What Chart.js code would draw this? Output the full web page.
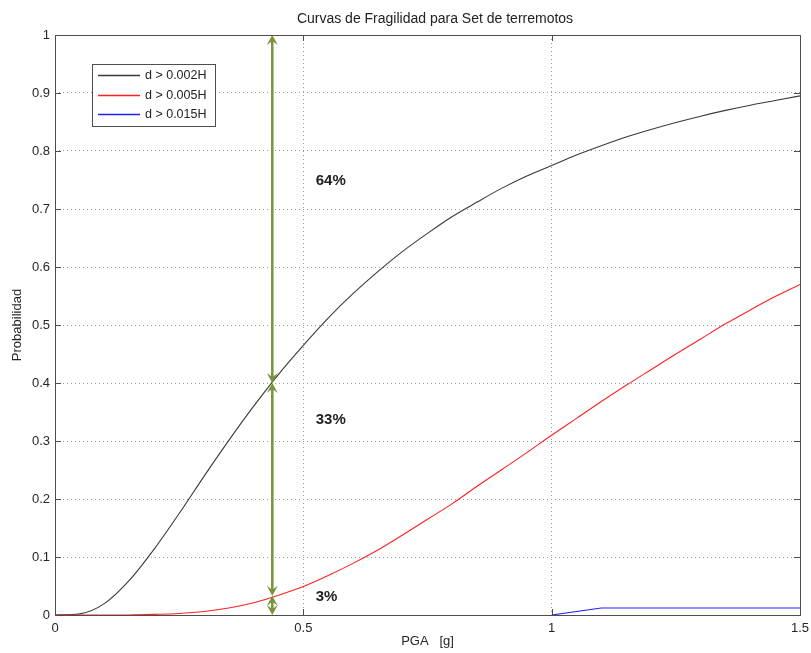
<!DOCTYPE html>
<html><head><meta charset="utf-8">
<script src="https://cdn.jsdelivr.net/npm/chart.js@4/dist/chart.umd.min.js"></script>
<style>html,body{margin:0;padding:0;background:#fff}#wrap{width:811px;height:653px;position:relative}</style>
</head><body><div id="wrap"><canvas id="c" width="811" height="653"></canvas></div>
<script>
const chartTitle = 'Curvas de Fragilidad para Set de terremotos';
const xAxisTitle = 'PGA   [g]';
const yAxisTitle = 'Probabilidad';
const seriesLabels = ['d > 0.002H', 'd > 0.005H', 'd > 0.015H'];
const seriesColors = ['#3a3a3a', '#ff2020', '#2020ff'];

const pga = [0,0.05,0.1,0.15,0.2,0.25,0.3,0.35,0.4,0.45,0.5,0.55,0.6,0.65,0.7,0.75,0.8,0.85,0.9,0.95,1.0,1.05,1.1,1.15,1.2,1.25,1.3,1.35,1.4,1.45,1.5];
const p002 = [0,0.002,0.020,0.060,0.114,0.175,0.239,0.301,0.360,0.415,0.465,0.512,0.554,0.592,0.627,0.658,0.687,0.712,0.736,0.757,0.775,0.793,0.809,0.824,0.837,0.849,0.860,0.870,0.879,0.887,0.895];
const p005 = [0,0,0,0.0001,0.001,0.0025,0.006,0.012,0.021,0.034,0.049,0.068,0.089,0.112,0.138,0.165,0.192,0.222,0.251,0.280,0.310,0.339,0.368,0.396,0.423,0.450,0.476,0.502,0.526,0.549,0.570];
const pga015 = [1.0, 1.1, 1.5];
const p015 = [0, 0.012, 0.012];

const xTicks = [0, 0.5, 1, 1.5];
const yTicks = [0, 0.1, 0.2, 0.3, 0.4, 0.5, 0.6, 0.7, 0.8, 0.9, 1];

const arrowX = 0.4375;
const arrowSpans = [[0.4, 1], [0.033, 0.4], [0, 0.033]];
const pctLabels = ['64%', '33%', '3%'];
const pctX = [0.525, 0.525, 0.525];
const pctY = [0.748, 0.336, 0.031];

const FONT = "'Liberation Sans', Arial, sans-serif";
const toXY = (xs, ys) => xs.map((x, i) => ({x: x, y: ys[i]}));

const decorPlugin = {
  id: 'decor',
  afterDatasetsDraw(chart) {
    const ctx = chart.ctx, a = chart.chartArea;
    const xs = chart.scales.x, ys = chart.scales.y;
    ctx.save();
    // frame
    ctx.strokeStyle = '#4d4d4d';
    ctx.lineWidth = 1;
    ctx.strokeRect(Math.round(a.left) + 0.5, Math.round(a.top) + 0.5, Math.round(a.right - a.left), Math.round(a.bottom - a.top));
    // inward ticks
    ctx.beginPath();
    xTicks.forEach(v => {
      const px = Math.round(xs.getPixelForValue(v)) + 0.5;
      ctx.moveTo(px, a.bottom); ctx.lineTo(px, a.bottom - 6);
      ctx.moveTo(px, a.top); ctx.lineTo(px, a.top + 6);
    });
    yTicks.forEach(v => {
      const py = Math.round(ys.getPixelForValue(v)) + 0.5;
      ctx.moveTo(a.left, py); ctx.lineTo(a.left + 6, py);
      ctx.moveTo(a.right, py); ctx.lineTo(a.right - 6, py);
    });
    ctx.stroke();

    // arrows
    const ax = xs.getPixelForValue(arrowX);
    ctx.strokeStyle = '#77933C';
    ctx.fillStyle = '#77933C';
    ctx.lineWidth = 2.5;
    const head = (x, y, dir) => { // dir -1 = pointing up, +1 = pointing down
      const L = 10, W = 5.5;
      ctx.beginPath();
      ctx.moveTo(x, y);
      ctx.lineTo(x - W, y - dir * L);
      ctx.lineTo(x, y - dir * L * 0.6);
      ctx.lineTo(x + W, y - dir * L);
      ctx.closePath();
      ctx.fill();
    };
    arrowSpans.forEach(s => {
      const y0 = ys.getPixelForValue(s[0]);
      const y1 = ys.getPixelForValue(s[1]);
      ctx.beginPath();
      ctx.moveTo(ax, y0 - 3); ctx.lineTo(ax, y1 + 3);
      ctx.stroke();
      head(ax, y1, -1);
      head(ax, y0, 1);
    });

    // percentage labels
    ctx.fillStyle = '#222';
    ctx.font = 'bold 15px ' + FONT;
    ctx.textAlign = 'left';
    ctx.textBaseline = 'middle';
    pctLabels.forEach((t, i) => {
      ctx.fillText(t, xs.getPixelForValue(pctX[i]), ys.getPixelForValue(pctY[i]));
    });

    // legend
    const lx = 92, ly = 64, lw = 123, lh = 62;
    ctx.fillStyle = '#fff';
    ctx.fillRect(lx, ly, lw, lh);
    ctx.strokeStyle = '#4d4d4d';
    ctx.lineWidth = 1;
    ctx.strokeRect(lx + 0.5, ly + 0.5, lw, lh);
    ctx.font = '12.5px ' + FONT;
    ctx.textBaseline = 'middle';
    seriesLabels.forEach((t, i) => {
      const y = Math.round(ly + 11 + i * 19.5) + 0.5;
      ctx.strokeStyle = seriesColors[i];
      ctx.lineWidth = 1.4;
      ctx.beginPath();
      ctx.moveTo(98, y); ctx.lineTo(140, y);
      ctx.stroke();
      ctx.fillStyle = '#222';
      ctx.fillText(t, 145, y);
    });

    // title
    ctx.font = '14px ' + FONT;
    ctx.textAlign = 'center';
    ctx.fillStyle = '#222';
    ctx.fillText(chartTitle, 435, 19);
    ctx.restore();
  }
};

new Chart(document.getElementById('c'), {
  type: 'line',
  data: {
    datasets: [
      {label: seriesLabels[0], data: toXY(pga, p002), borderColor: seriesColors[0], order: 3},
      {label: seriesLabels[1], data: toXY(pga, p005), borderColor: seriesColors[1], order: 2},
      {label: seriesLabels[2], data: toXY(pga015, p015), borderColor: seriesColors[2], order: 1, cubicInterpolationMode: 'default', tension: 0}
    ]
  },
  options: {
    responsive: false,
    animation: false,
    layout: {padding: {top: 35, right: 11, left: 0, bottom: 0}},
    elements: {
      point: {radius: 0},
      line: {borderWidth: 1.1, cubicInterpolationMode: 'monotone', fill: false}
    },
    plugins: {legend: {display: false}, title: {display: false}, tooltip: {enabled: false}},
    scales: {
      x: {
        type: 'linear', min: 0, max: 1.5,
        afterBuildTicks: s => { s.ticks = xTicks.map(v => ({value: v})); },
        afterFit: s => { s.height = 38; s.paddingLeft = 0; s.paddingRight = 0; },
        ticks: {padding: 6, color: '#262626', font: {family: FONT, size: 13}, callback: v => String(v), maxRotation: 0},
        grid: {color: '#9a9a9a', lineWidth: 1, drawTicks: false},
        border: {display: false, dash: [1, 3]},
        title: {display: true, text: xAxisTitle, color: '#262626', font: {family: FONT, size: 13}, padding: {top: 0, bottom: 4}}
      },
      y: {
        type: 'linear', min: 0, max: 1,
        afterBuildTicks: s => { s.ticks = yTicks.map(v => ({value: v})); },
        afterFit: s => { s.width = 55; s.paddingTop = 0; s.paddingBottom = 0; },
        ticks: {padding: 5, color: '#262626', font: {family: FONT, size: 13}, callback: v => String(v)},
        grid: {color: '#9a9a9a', lineWidth: 1, drawTicks: false},
        border: {display: false, dash: [1, 3]},
        title: {display: true, text: yAxisTitle, color: '#262626', font: {family: FONT, size: 13}, padding: {top: 10, bottom: 0}}
      }
    }
  },
  plugins: [decorPlugin]
});
</script>
</body></html>
